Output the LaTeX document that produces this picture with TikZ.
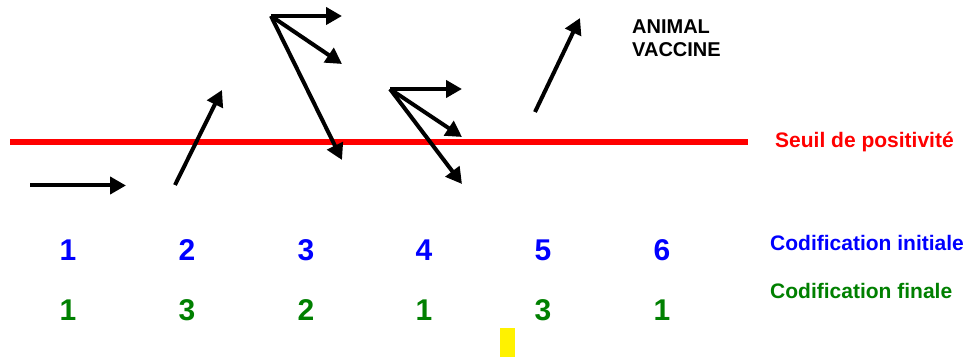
\documentclass[tikz,border=0pt]{standalone}
\usepackage{fontspec}
\setmainfont{Liberation Sans}
\usetikzlibrary{arrows.meta}
\definecolor{seuilred}{RGB}{255,0,0}
\definecolor{codblue}{RGB}{0,0,255}
\definecolor{codgreen}{RGB}{0,128,0}
\tikzset{
  vec/.style={line width=4pt,-{Triangle[length=16pt,width=17pt]},black},
  numblue/.style={text=codblue,font=\bfseries\fontsize{30}{32}\selectfont,inner sep=0pt},
  numgreen/.style={text=codgreen,font=\bfseries\fontsize{30}{32}\selectfont,inner sep=0pt},
  lab/.style={font=\bfseries\fontsize{21}{23}\selectfont,inner sep=0pt,anchor=base west}
}
\begin{document}
\begin{tikzpicture}[x=1pt,y=-1pt]
\useasboundingbox[fill=white] (0,0) rectangle (969,358);
% threshold line
\coordinate (l0) at (10,142);
\coordinate (l1) at (748,142);
\draw[seuilred,line width=5.5pt] (l0) -- (l1);
\node[lab,text=seuilred] (seuil) at (775,148) {Seuil de positivité};
% animal 1
\coordinate (a1s) at (30,185.5); \coordinate (a1e) at (126,185.5);
\draw[vec] (a1s) -- (a1e);
% animal 2
\coordinate (a2s) at (175,185); \coordinate (a2e) at (222,90);
\draw[vec] (a2s) -- (a2e);
% animal 3
\coordinate (a3o) at (271,16);
\coordinate (a3a) at (342,16); \coordinate (a3b) at (342,64); \coordinate (a3c) at (342,160);
\draw[vec] (a3o) -- (a3a);
\draw[vec] (a3o) -- (a3b);
\draw[vec] (a3o) -- (a3c);
% animal 4
\coordinate (a4o) at (390,89);
\coordinate (a4a) at (462,89); \coordinate (a4b) at (462,137); \coordinate (a4c) at (462,184);
\draw[vec] (a4o) -- (a4a);
\draw[vec] (a4o) -- (a4b);
\draw[vec] (a4o) -- (a4c);
% animal 5
\coordinate (a5s) at (535,112); \coordinate (a5e) at (580,18);
\draw[vec] (a5s) -- (a5e);
\node[lab,font=\bfseries\fontsize{20}{22}\selectfont] (an) at (632,34) {ANIMAL};
\node[lab,font=\bfseries\fontsize{20}{22}\selectfont] (va) at (632,57) {VACCINE};
% codification
\foreach \i/\x/\f in {1/68/1,2/187/3,3/306/2,4/424/1,5/543/3,6/662/1}{
  \node[numblue] (ci\i) at (\x,250.5) {\i};
  \node[numgreen] (cf\i) at (\x,310) {\f};
}
\node[lab,text=codblue] (cinit) at (770,251) {Codification initiale};
\node[lab,text=codgreen] (cfin) at (770,298) {Codification finale};
% yellow mark
\fill[yellow] (500,328) rectangle (515,357);
\end{tikzpicture}
\end{document}
